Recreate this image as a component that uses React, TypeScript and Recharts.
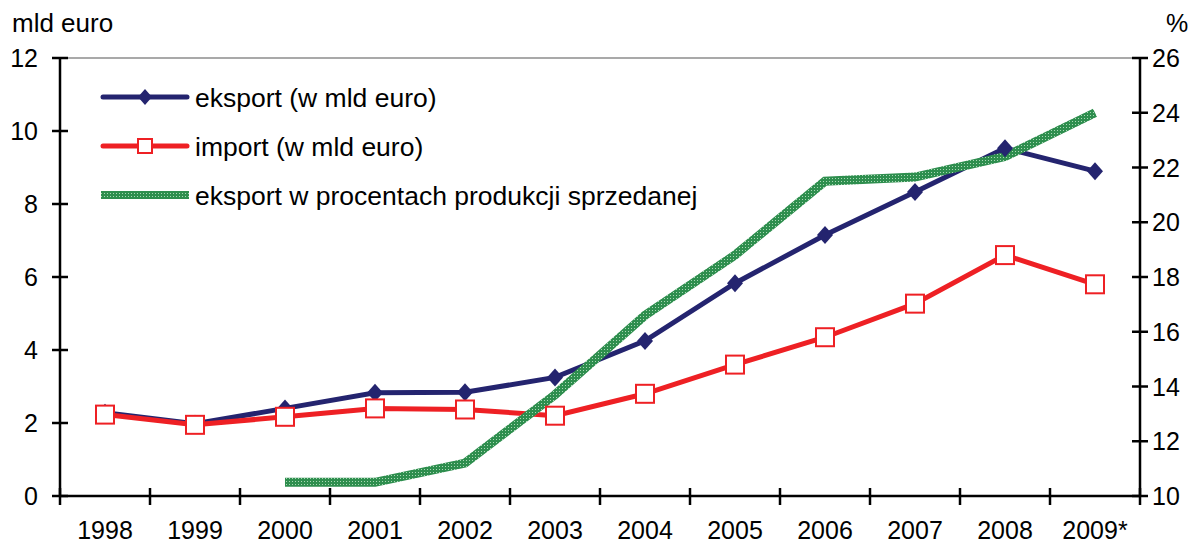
import { LineChart, Line, XAxis, YAxis, ReferenceLine, Legend } from 'recharts';

const years = ['1998', '1999', '2000', '2001', '2002', '2003', '2004', '2005', '2006', '2007', '2008', '2009*'];
const eksport = [2.28, 1.98, 2.4, 2.83, 2.84, 3.25, 4.25, 5.83, 7.15, 8.33, 9.53, 8.9];
const importVals = [2.23, 1.95, 2.17, 2.4, 2.37, 2.2, 2.8, 3.6, 4.35, 5.27, 6.6, 5.8];
const eksportPct = [null, null, 10.5, 10.5, 11.2, 13.7, 16.6, 18.8, 21.5, 21.65, 22.4, 24.0];
const leftTicks = [0, 2, 4, 6, 8, 10, 12];
const rightTicks = [10, 12, 14, 16, 18, 20, 22, 24, 26];

const data = years.map((year, i) => ({
  year,
  eksport: eksport[i],
  import: importVals[i],
  pct: eksportPct[i],
}));

const FONT = '"Liberation Sans", Arial, sans-serif';
const NAVY = '#24246f';
const RED = '#ee2024';
const HALF_BAND = 45;

const PatternDefs = ({ id }: { id: string }) => (
  <defs>
    <pattern id={id} patternUnits="userSpaceOnUse" width="3" height="3">
      <rect width="3" height="3" fill="#2e8e4e" />
      <rect x="1" y="1" width="1" height="1" fill="#a8d8b4" />
    </pattern>
  </defs>
);

const LeftTick = (props: any) => {
  const { x, y, payload } = props;
  return (
    <g>
      <line x1={x - 8} x2={x + 8} y1={y} y2={y} stroke="#000" strokeWidth={2.5} />
      <text x={x - 22} y={y} dy="0.36em" textAnchor="end" fontSize={25} fontFamily={FONT} fill="#000">
        {payload.value}
      </text>
    </g>
  );
};

const RightTick = (props: any) => {
  const { x, y, payload } = props;
  return (
    <g>
      <line x1={x - 8} x2={x + 8} y1={y} y2={y} stroke="#000" strokeWidth={2.5} />
      <text x={x + 12} y={y} dy="0.36em" textAnchor="start" fontSize={25} fontFamily={FONT} fill="#000">
        {payload.value}
      </text>
    </g>
  );
};

const BottomTick = (props: any) => {
  const { x, y, payload, index } = props;
  const last = index === years.length - 1;
  return (
    <g>
      <line x1={x - HALF_BAND} x2={x - HALF_BAND} y1={y - 8} y2={y + 9} stroke="#000" strokeWidth={2.5} />
      {last && <line x1={x + HALF_BAND} x2={x + HALF_BAND} y1={y - 8} y2={y + 9} stroke="#000" strokeWidth={2.5} />}
      <text x={x} y={y + 43} textAnchor="middle" fontSize={25} fontFamily={FONT} fill="#000">
        {payload.value}
      </text>
    </g>
  );
};

const Diamond = (props: any) => {
  const { cx, cy } = props;
  if (cx == null || cy == null) return null;
  return <polygon points={`${cx},${cy - 9} ${cx + 8},${cy} ${cx},${cy + 9} ${cx - 8},${cy}`} fill={NAVY} />;
};

const Square = (props: any) => {
  const { cx, cy } = props;
  if (cx == null || cy == null) return null;
  return <rect x={cx - 9} y={cy - 9} width={18} height={18} fill="#fff" stroke={RED} strokeWidth={2} />;
};

const legendRows = [
  { label: 'eksport (w mld euro)', kind: 'eksport' },
  { label: 'import (w mld euro)', kind: 'import' },
  { label: 'eksport w procentach produkcji sprzedanej', kind: 'pct' },
];

const LegendContent = () => (
  <svg width={640} height={140}>
    <PatternDefs id="greenLegend" />
    {legendRows.map((row, i) => {
      const y = 19 + i * 49;
      return (
        <g key={row.kind}>
          {row.kind === 'eksport' && (
            <>
              <line x1={3} x2={87} y1={y} y2={y} stroke={NAVY} strokeWidth={5} strokeLinecap="round" />
              <polygon points={`45,${y - 8} 52,${y} 45,${y + 8} 38,${y}`} fill={NAVY} />
            </>
          )}
          {row.kind === 'import' && (
            <>
              <line x1={3} x2={87} y1={y} y2={y} stroke={RED} strokeWidth={5} strokeLinecap="round" />
              <rect x={38} y={y - 7} width={14} height={14} fill="#fff" stroke={RED} strokeWidth={2} />
            </>
          )}
          {row.kind === 'pct' && <rect x={1} y={y - 4} width={88} height={8} fill="url(#greenLegend)" />}
          <text x={95} y={y} dy="0.36em" fontSize={26.5} fontFamily={FONT} fill="#000">
            {row.label}
          </text>
        </g>
      );
    })}
  </svg>
);

export default function App() {
  return (
    <div style={{ position: 'absolute', left: 0, top: 0, width: 1195, height: 545, background: '#fff' }}>
      <div style={{ position: 'absolute', left: 12, top: 9, fontSize: 26, fontFamily: FONT, lineHeight: '28px' }}>mld euro</div>
      <div style={{ position: 'absolute', left: 1166, top: 9, fontSize: 25, fontFamily: FONT, lineHeight: '28px' }}>%</div>
      <LineChart width={1195} height={545} data={data} margin={{ top: 58, right: 0, bottom: 0, left: 0 }}>
        <PatternDefs id="greenStroke" />
        <XAxis
          dataKey="year"
          height={49}
          padding={{ left: HALF_BAND, right: HALF_BAND }}
          axisLine={{ stroke: '#000', strokeWidth: 2.5 }}
          tickLine={false}
          tickSize={0}
          tickMargin={0}
          tick={<BottomTick />}
          interval={0}
        />
        <YAxis
          yAxisId="left"
          width={60}
          domain={[0, 12]}
          ticks={leftTicks}
          axisLine={{ stroke: '#000', strokeWidth: 2.5 }}
          tickLine={false}
          tickSize={0}
          tickMargin={0}
          tick={<LeftTick />}
          interval={0}
        />
        <YAxis
          yAxisId="right"
          orientation="right"
          width={55}
          domain={[10, 26]}
          ticks={rightTicks}
          axisLine={{ stroke: '#000', strokeWidth: 2.5 }}
          tickLine={false}
          tickSize={0}
          tickMargin={0}
          tick={<RightTick />}
          interval={0}
        />
        <ReferenceLine yAxisId="left" y={12} stroke="#8c8c8c" strokeWidth={1.5} />
        <Legend
          layout="horizontal"
          verticalAlign="middle"
          align="center"
          wrapperStyle={{ left: 100, top: 78, width: 640, height: 140 }}
          content={<LegendContent />}
        />
        <Line
          yAxisId="left"
          dataKey="eksport"
          stroke={NAVY}
          strokeWidth={5}
          dot={<Diamond />}
          activeDot={false}
          isAnimationActive={false}
        />
        <Line
          yAxisId="left"
          dataKey="import"
          stroke={RED}
          strokeWidth={5}
          dot={<Square />}
          activeDot={false}
          isAnimationActive={false}
        />
        <Line
          yAxisId="right"
          dataKey="pct"
          stroke="url(#greenStroke)"
          strokeWidth={9}
          dot={false}
          activeDot={false}
          connectNulls={false}
          isAnimationActive={false}
        />
      </LineChart>
    </div>
  );
}
